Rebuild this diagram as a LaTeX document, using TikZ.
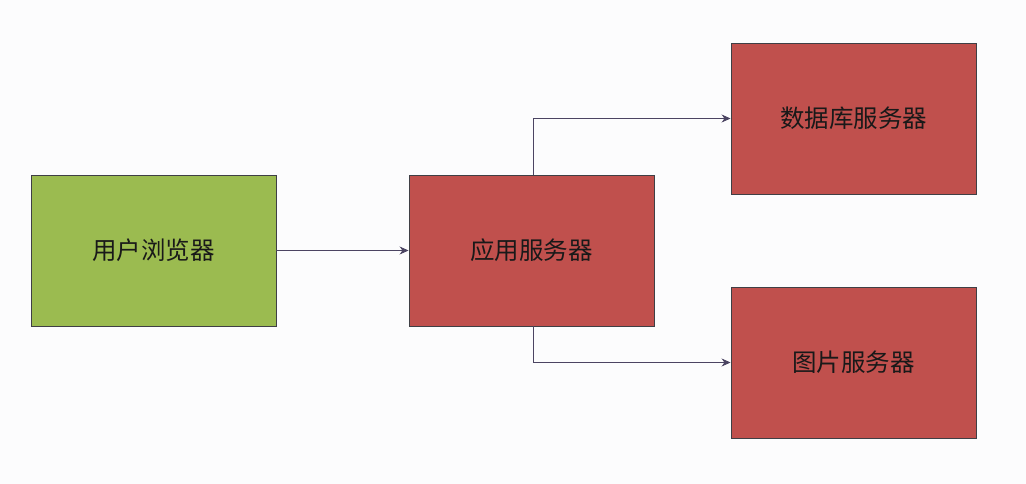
\documentclass[tikz,border=0pt]{standalone}
\usepackage{fontspec}
\newfontfamily\cjk{Noto Sans CJK SC}
\usetikzlibrary{arrows.meta}
\definecolor{bg}{HTML}{FCFCFD}
\definecolor{boxgreen}{HTML}{9BBB50}
\definecolor{boxred}{HTML}{C0504D}
\definecolor{edge}{HTML}{3F3F45}
\definecolor{arrowc}{HTML}{4B4462}
\begin{document}
\begin{tikzpicture}[x=1pt,y=-1pt,
  box/.style={draw=edge, line width=0.9pt, minimum width=245pt, minimum height=151pt, inner sep=0pt, font=\cjk\fontsize{24.5}{28}\selectfont, text=black!90},
  conn/.style={draw=arrowc, line width=0.9pt, -{Stealth[length=9pt,width=8pt]}}]
\fill[bg] (0,0) rectangle (1026,484);
\useasboundingbox (0,0) rectangle (1026,484);
\node[box, fill=boxgreen] (browser) at (153.5,250.5) {用户浏览器};
\node[box, fill=boxred] (app) at (531.5,250.5) {应用服务器};
\node[box, fill=boxred] (db) at (853.5,118.5) {数据库服务器};
\node[box, fill=boxred] (img) at (853.5,362.5) {图片服务器};
\draw[conn] (browser.east) -- (app.west);
\draw[conn] ([xshift=1.5pt]app.north) |- (db.west);
\draw[conn] ([xshift=1.5pt]app.south) |- (img.west);
\end{tikzpicture}
\end{document}
